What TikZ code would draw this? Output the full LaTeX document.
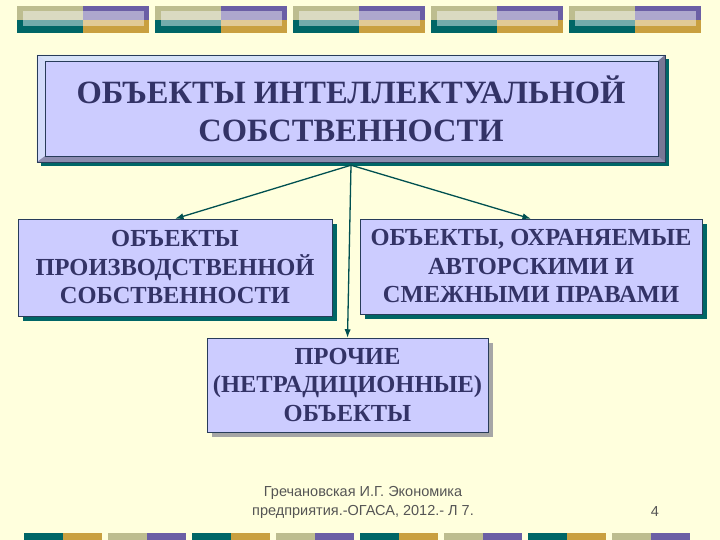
\documentclass[tikz,border=0pt]{standalone}
\usepackage{fontspec}
\setmainfont{Liberation Serif}
\newfontfamily\footfont{Liberation Sans}
\usetikzlibrary{arrows.meta, calc, shadows}

\definecolor{slidebg}{RGB}{255,255,221}
\definecolor{boxface}{RGB}{204,204,255}
\definecolor{boxtext}{RGB}{51,51,102}
\definecolor{boxline}{RGB}{40,60,90}
\definecolor{darkteal}{RGB}{0,102,102}
\definecolor{arrowteal}{RGB}{0,80,80}
\definecolor{barkhaki}{RGB}{189,189,143}
\definecolor{barpurple}{RGB}{107,95,165}
\definecolor{bargold}{RGB}{201,160,64}
\definecolor{bevellight}{RGB}{214,226,248}
\definecolor{beveldark}{RGB}{140,140,175}
\definecolor{footgray}{RGB}{85,85,85}

\begin{document}
\begin{tikzpicture}[
  x=1pt, y=-1pt,
  box/.style={draw=boxline, fill=boxface, text=boxtext, align=center, inner sep=0pt,
    font=\fontsize{24.5}{28.5}\selectfont\bfseries},
  tealshadow/.style={drop shadow={shadow xshift=5pt, shadow yshift=-5pt, fill=darkteal, opacity=1}},
  grayshadow/.style={drop shadow={shadow xshift=5pt, shadow yshift=-5pt, fill=gray!70, opacity=1}},
  arrow/.style={-{Latex[length=3mm, width=2.2mm]}, line width=1.3pt, draw=arrowteal}
]

% Slide background
\useasboundingbox (0,0) rectangle (720,540);
\fill[slidebg] (0,0) rectangle (720,540);

% Decorative bars (top)
\foreach \k in {0,...,4} {
  \pgfmathsetmacro\bx{17+138*\k}
  \fill[barkhaki] (\bx,6) rectangle ++(66,14);
  \fill[darkteal] (\bx,20) rectangle ++(66,13);
  \fill[barpurple] (\bx+66,6) rectangle ++(66,14);
  \fill[bargold] (\bx+66,20) rectangle ++(66,13);
  \fill[white, opacity=0.45] (\bx+6,11) rectangle ++(121,15);
}

% Decorative bars (bottom)
\foreach \k in {0,2,4,6} {
  \fill[darkteal] (24+84*\k,533) rectangle ++(39,7);
  \fill[bargold] (63+84*\k,533) rectangle ++(39,7);
}
\foreach \k in {1,3,5,7} {
  \fill[barkhaki] (24+84*\k,533) rectangle ++(39,7);
  \fill[barpurple] (63+84*\k,533) rectangle ++(39,7);
}

% Title box with bevel
\node[box, minimum width=628pt, minimum height=107pt,
  drop shadow={shadow xshift=4pt, shadow yshift=-4pt, fill=darkteal, opacity=1},
  font=\fontsize{32.5}{38}\selectfont\bfseries] (title) at (351,108.5)
  {ОБЪЕКТЫ ИНТЕЛЛЕКТУАЛЬНОЙ\\СОБСТВЕННОСТИ};
\fill[bevellight] (title.north west) -- (title.north east) -- ($(title.north east)+(-7,6)$)
  -- ($(title.north west)+(8,6)$) -- cycle;
\fill[bevellight!70!boxface] (title.north west) -- ($(title.north west)+(8,6)$)
  -- ($(title.south west)+(8,-6)$) -- (title.south west) -- cycle;
\fill[beveldark] (title.south west) -- ($(title.south west)+(8,-6)$)
  -- ($(title.south east)+(-7,-6)$) -- (title.south east) -- cycle;
\fill[beveldark!85!black] (title.north east) -- (title.south east)
  -- ($(title.south east)+(-7,-6)$) -- ($(title.north east)+(-7,6)$) -- cycle;
\draw[boxline] (title.north west) rectangle (title.south east);
\draw[boxline] ($(title.north west)+(8,6)$) rectangle ($(title.south east)+(-7,-6)$);

% Lower boxes
\node[box, tealshadow, minimum width=314pt, minimum height=97pt] (prod) at (175,267.5)
  {ОБЪЕКТЫ\\ПРОИЗВОДСТВЕННОЙ\\СОБСТВЕННОСТИ};
\node[box, tealshadow, minimum width=342pt, minimum height=95pt] (copyr) at (531,266.5)
  {ОБЪЕКТЫ, ОХРАНЯЕМЫЕ\\АВТОРСКИМИ И\\СМЕЖНЫМИ ПРАВАМИ};
\node[box, grayshadow, minimum width=281pt, minimum height=94pt] (other) at (347.5,385)
  {ПРОЧИЕ\\(НЕТРАДИЦИОННЫЕ)\\ОБЪЕКТЫ};

% Arrows
\coordinate (hub) at ([yshift=-3pt]title.south);
\draw[arrow] (hub) -- (prod.north);
\draw[arrow] (hub) -- (copyr.north);
\draw[arrow] (hub) -- (other.north);

% Footer
\node[font=\footfont\fontsize{14.5}{19}\selectfont, text=footgray, align=center] (author) at (363,502)
  {Гречановская И.Г. Экономика\\предприятия.-ОГАСА, 2012.- Л 7.};
\node[font=\footfont\fontsize{14.5}{15}\selectfont, text=footgray] (pagenum) at (655,512) {4};

\end{tikzpicture}
\end{document}
